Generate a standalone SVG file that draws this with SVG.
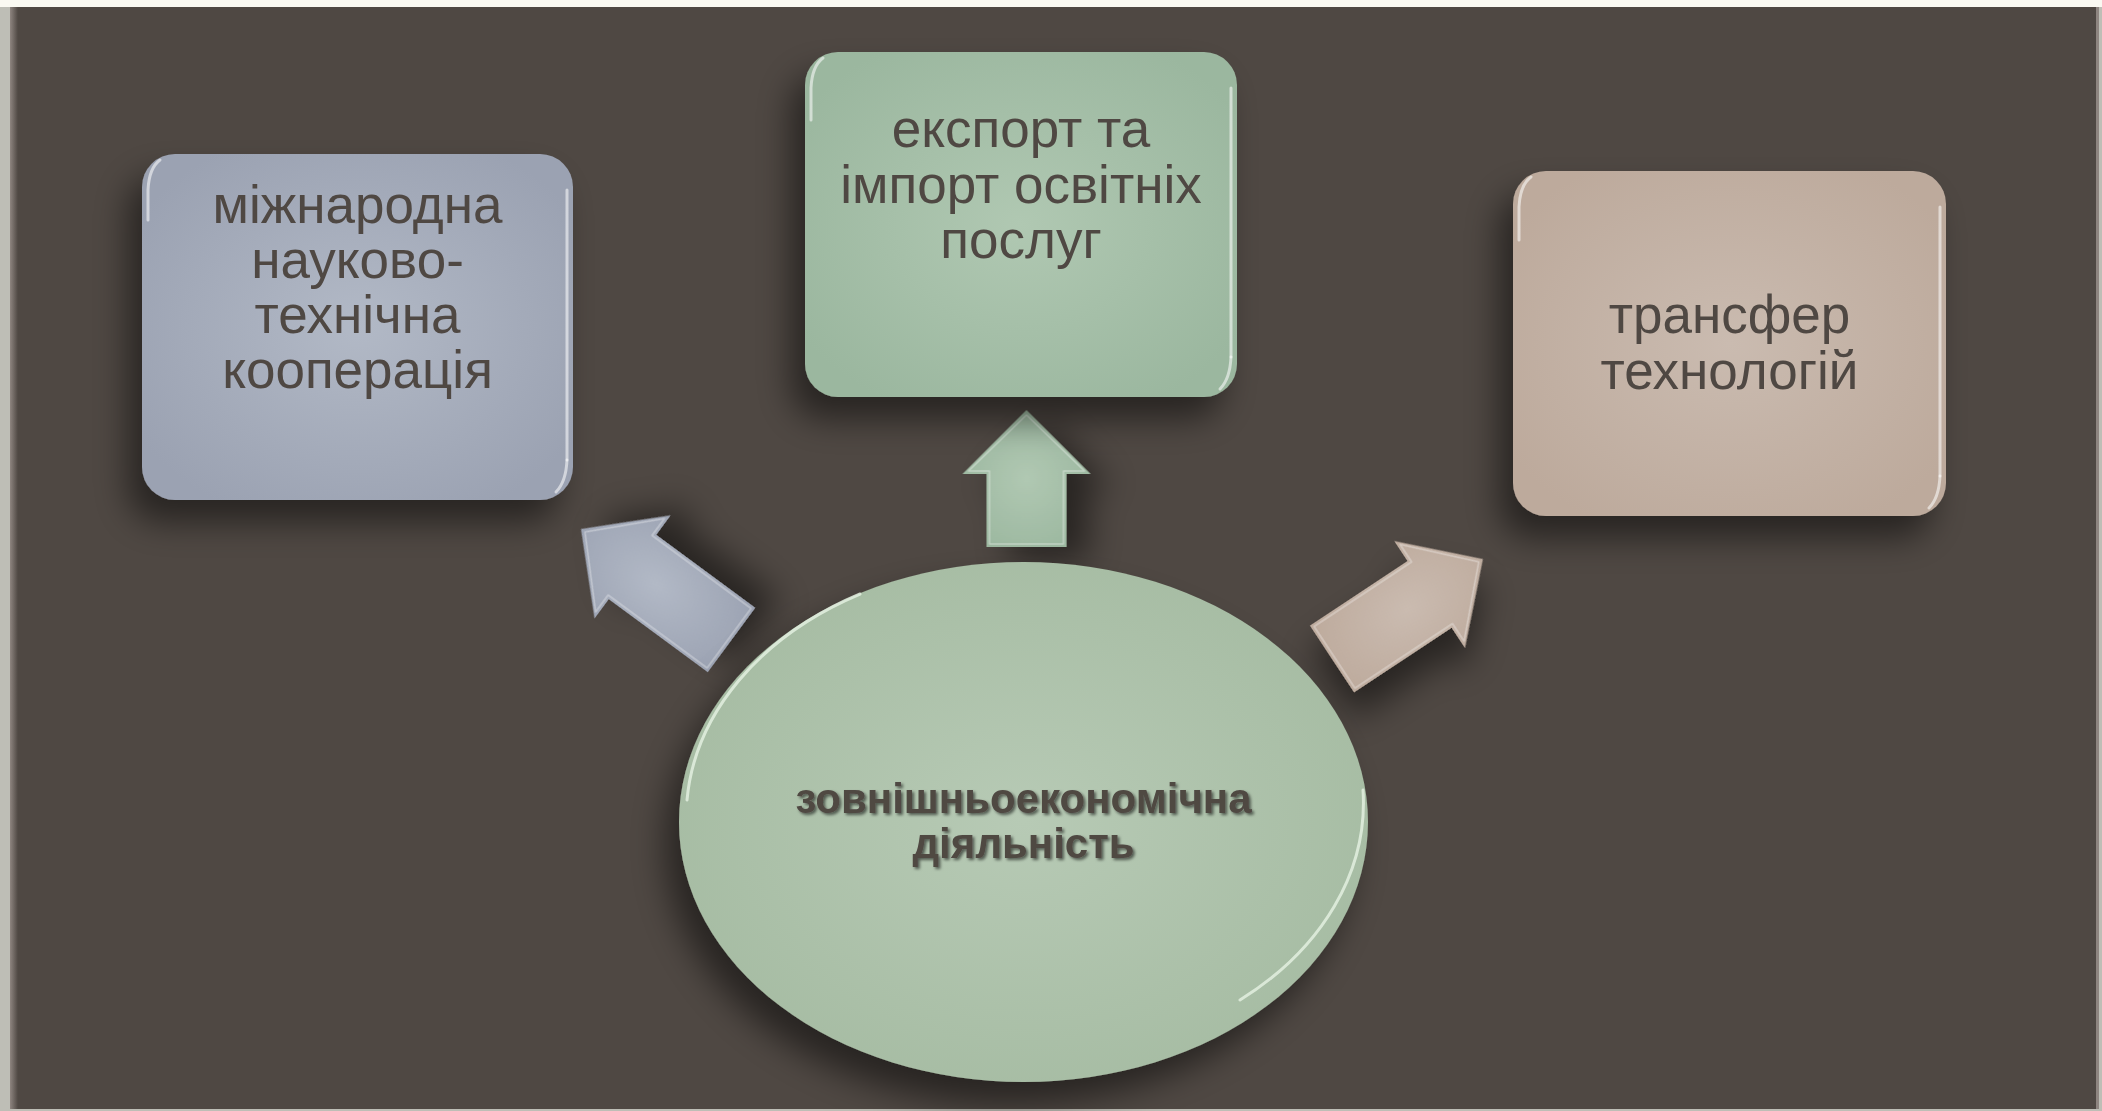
<svg xmlns="http://www.w3.org/2000/svg" width="2102" height="1111" viewBox="0 0 2102 1111">
<defs>
<style>
.lbl{font-family:"Liberation Sans",Arial,sans-serif;font-size:53px;fill:#4F4843;text-anchor:middle}
.main{font-family:"Liberation Sans",Arial,sans-serif;font-size:42px;font-weight:bold;fill:#4F4843;text-anchor:middle}
.hl{fill:none;stroke:#ffffff;stroke-opacity:0.55;stroke-width:3;stroke-linecap:round}
.ahl{fill:none;stroke:#ffffff;stroke-opacity:0.35;stroke-width:1.5;stroke-linejoin:round}
</style>
<filter id="sh" x="-30%" y="-30%" width="160%" height="170%">
<feDropShadow dx="-14" dy="22" stdDeviation="17" flood-color="#000" flood-opacity="0.5"/>
</filter>
<filter id="tsh" x="-10%" y="-30%" width="120%" height="160%">
<feDropShadow dx="2" dy="2" stdDeviation="1.5" flood-color="#000" flood-opacity="0.55"/>
</filter>
<radialGradient id="gBlue" cx="50%" cy="50%" r="60%">
<stop offset="0" stop-color="#B2B9C6"/><stop offset="1" stop-color="#9BA2B2"/>
</radialGradient>
<radialGradient id="gGreen" cx="50%" cy="50%" r="60%">
<stop offset="0" stop-color="#B0C8B2"/><stop offset="1" stop-color="#9BB79F"/>
</radialGradient>
<radialGradient id="gTan" cx="50%" cy="50%" r="60%">
<stop offset="0" stop-color="#CABBB0"/><stop offset="1" stop-color="#BDAA9C"/>
</radialGradient>
<radialGradient id="gEll" cx="50%" cy="50%" r="55%">
<stop offset="0" stop-color="#B7CAB5"/><stop offset="1" stop-color="#A6BCA3"/>
</radialGradient>
<linearGradient id="gBg" x1="0" y1="0" x2="1" y2="0">
<stop offset="0" stop-color="#8E8580"/><stop offset="1" stop-color="#4F4843"/>
</linearGradient>
</defs>

<!-- background -->
<rect x="0" y="0" width="2102" height="1111" fill="#BEBEB6"/>
<rect x="0" y="0" width="2102" height="7" fill="#FAF9F2"/>
<rect x="10" y="7" width="2088" height="1102" fill="#4F4843"/>
<rect x="10" y="7" width="8" height="1102" fill="url(#gBg)"/>
<rect x="2096" y="7" width="3" height="1102" fill="#8E8580"/>

<g id="connectors">
<g id="arrow-left" filter="url(#sh)" transform="translate(731.5,640) rotate(216.4)">
<polygon points="0,-40 123,-40 123,-64 187,0 123,64 123,40 0,40" fill="url(#gBlue)"/>
<polygon class="ahl" points="3,-37 126,-37 126,-58 182,0 126,58 126,37 3,37"/>
</g>
<g id="arrow-up" filter="url(#sh)" transform="translate(1026.5,547) rotate(-90)">
<polygon points="0,-40 73,-40 73,-64 137,0 73,64 73,40 0,40" fill="url(#gGreen)"/>
<polygon class="ahl" points="3,-37 76,-37 76,-58 132,0 76,58 76,37 3,37"/>
</g>
<g id="arrow-right" filter="url(#sh)" transform="translate(1332,659) rotate(-33.5)">
<polygon points="0,-40 117,-40 117,-64 181,0 117,64 117,40 0,40" fill="url(#gTan)"/>
<polygon class="ahl" points="3,-37 120,-37 120,-58 176,0 120,58 120,37 3,37"/>
</g>
</g>

<g id="node-cooperation">
<rect x="142" y="154" width="431" height="346" rx="33" fill="url(#gBlue)" filter="url(#sh)"/>
<path class="hl" d="M148,220 L148,190 Q149,168 160,160"/>
<path class="hl" d="M567,190 L567,460"/>
<path class="hl" d="M567,460 Q566,482 556,492"/>
<text class="lbl" x="357.5" y="223">міжнародна</text>
<text class="lbl" x="357.5" y="278">науково-</text>
<text class="lbl" x="357.5" y="333">технічна</text>
<text class="lbl" x="357.5" y="388">кооперація</text>
</g>

<g id="node-education">
<rect x="805" y="52" width="432" height="345" rx="33" fill="url(#gGreen)" filter="url(#sh)"/>
<path class="hl" d="M811,120 L811,88 Q812,66 823,58"/>
<path class="hl" d="M1231,88 L1231,357"/>
<path class="hl" d="M1231,357 Q1230,379 1220,389"/>
<text class="lbl" x="1021" y="147">експорт та</text>
<text class="lbl" x="1021" y="203">імпорт освітніх</text>
<text class="lbl" x="1021" y="258">послуг</text>
</g>

<g id="node-transfer">
<rect x="1513" y="171" width="433" height="345" rx="33" fill="url(#gTan)" filter="url(#sh)"/>
<path class="hl" d="M1519,240 L1519,207 Q1520,185 1531,177"/>
<path class="hl" d="M1940,207 L1940,476"/>
<path class="hl" d="M1940,476 Q1939,498 1929,508"/>
<text class="lbl" x="1729.5" y="333">трансфер</text>
<text class="lbl" x="1729.5" y="389">технологій</text>
</g>

<g id="node-activity">
<ellipse cx="1023.5" cy="822" rx="344.5" ry="260" fill="url(#gEll)" filter="url(#sh)"/>
<path d="M687,800 A340,256 0 0 1 860,594" fill="none" stroke="#E6F2E4" stroke-opacity="0.8" stroke-width="3" stroke-linecap="round"/>
<path d="M1363,790 A340,256 0 0 1 1240,1000" fill="none" stroke="#E6F2E4" stroke-opacity="0.8" stroke-width="3" stroke-linecap="round"/>
<g filter="url(#tsh)">
<text class="main" x="1023.5" y="813">зовнішньоекономічна</text>
<text class="main" x="1023.5" y="858">діяльність</text>
</g>
</g>
</svg>
